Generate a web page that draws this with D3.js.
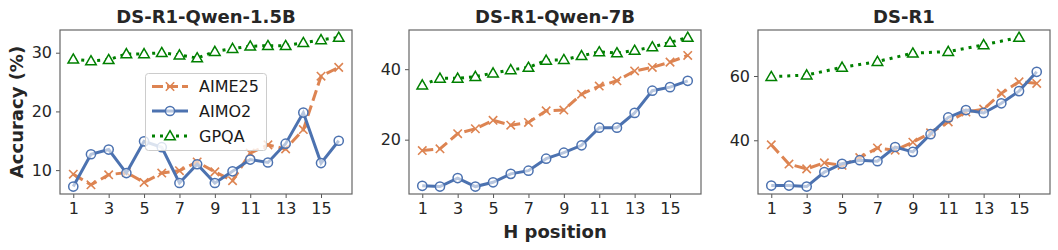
<!DOCTYPE html>
<html>
<head>
<meta charset="utf-8">
<script src="https://cdn.jsdelivr.net/npm/d3@7"></script>
<style>
  body { margin: 0; background: #fff; }
  svg { display: block; font-family: "DejaVu Sans", sans-serif; }
</style>
</head>
<body>
<script>
// H positions on the x axis
const hPositions = [1, 2, 3, 4, 5, 6, 7, 8, 9, 10, 11, 12, 13, 14, 15, 16];
const xTicks = [1, 3, 5, 7, 9, 11, 13, 15];

const panelTitles = ["DS-R1-Qwen-1.5B", "DS-R1-Qwen-7B", "DS-R1"];
const seriesNames = ["AIME25", "AIMO2", "GPQA"];

// DS-R1-Qwen-1.5B
const qwen15Aime25 = [9.3, 7.5, 9.2, 9.6, 7.9, 9.5, 9.9, 11.4, 9.7, 8.2, 12.9, 14.3, 13.6, 16.9, 26.0, 27.5];
const qwen15Aimo2 = [7.2, 12.7, 13.5, 9.5, 14.9, 13.9, 7.8, 11.0, 7.8, 9.8, 11.8, 11.3, 14.5, 19.8, 11.2, 15.0];
const qwen15Gpqa = [28.9, 28.6, 28.8, 29.8, 29.8, 30.0, 29.6, 29.1, 30.2, 30.7, 31.1, 31.2, 31.2, 31.7, 32.2, 32.6];

// DS-R1-Qwen-7B
const qwen7Aime25 = [16.9, 17.4, 21.7, 23.1, 25.5, 24.1, 24.9, 28.2, 28.4, 32.9, 35.2, 36.7, 39.5, 40.5, 42.0, 43.9];
const qwen7Aimo2 = [6.9, 6.7, 9.1, 6.7, 7.9, 10.3, 11.2, 14.6, 16.3, 18.4, 23.4, 23.4, 27.6, 33.9, 34.9, 36.7];
const qwen7Gpqa = [35.5, 37.4, 37.4, 37.9, 38.9, 39.8, 40.5, 42.5, 42.7, 43.8, 44.9, 44.6, 45.3, 46.3, 47.6, 49.0];

// DS-R1 (GPQA only measured at odd positions)
const r1Aime25 = [38.6, 32.6, 31.1, 33.0, 32.2, 34.6, 37.6, 36.9, 39.4, 42.3, 45.7, 48.8, 49.7, 54.6, 58.2, 57.7];
const r1Aimo2 = [25.9, 25.9, 25.6, 30.1, 32.7, 33.8, 33.5, 37.9, 36.4, 41.9, 47.1, 49.4, 48.5, 51.5, 55.3, 61.3];
const r1Gpqa = [59.8, null, 60.3, null, 62.7, null, 64.5, null, 67.1, null, 67.6, null, 69.7, null, 72.0, null];

const yTicksList = [[10, 20, 30], [20, 40], [40, 60]];

const panelSeries = [
  [qwen15Aime25, qwen15Aimo2, qwen15Gpqa],
  [qwen7Aime25, qwen7Aimo2, qwen7Gpqa],
  [r1Aime25, r1Aimo2, r1Gpqa]
];

const colors = ["#dd8452", "#4c72b0", "#008000"];
const dashes = ["11,5", null, "3,5"];

const W = 1058, H = 250;
const axTop = 30, axBottom = 194;
const lefts = [60, 409, 758];
const axW = 292;

const svg = d3.select("body").append("svg")
  .attr("width", W)
  .attr("height", H);

function drawMarker(g, kind, x, y, color) {
  if (kind == 0) {
    const s = 4.2;
    g.append("path")
      .attr("d", `M${x - s},${y - s}L${x + s},${y + s}M${x - s},${y + s}L${x + s},${y - s}`)
      .attr("stroke", color).attr("stroke-width", 1.6).attr("fill", "none");
  } else if (kind == 1) {
    g.append("circle")
      .attr("cx", x).attr("cy", y).attr("r", 4.6)
      .attr("fill", "white").attr("fill-opacity", 0.6)
      .attr("stroke", color).attr("stroke-width", 1.5);
  } else {
    g.append("path")
      .attr("d", d3.symbol(d3.symbolTriangle, 48)())
      .attr("transform", `translate(${x},${y + 0.8})`)
      .attr("fill", "white")
      .attr("stroke", color).attr("stroke-width", 1.5);
  }
}

panelSeries.forEach((series, p) => {
  const left = lefts[p];
  const x = d3.scaleLinear().domain([0.25, 16.75]).range([left, left + axW]);

  const all = series.flat().filter(v => v != null);
  const lo = d3.min(all), hi = d3.max(all);
  const pad = (hi - lo) * 0.05;
  const y = d3.scaleLinear().domain([lo - pad, hi + pad]).range([axBottom, axTop]);

  const g = svg.append("g");

  // lines + markers
  series.forEach((vals, s) => {
    const pts = hPositions.map((h, i) => ({ h: h, v: vals[i] })).filter(d => d.v != null);
    const line = d3.line().x(d => x(d.h)).y(d => y(d.v));
    g.append("path")
      .datum(pts)
      .attr("d", line)
      .attr("fill", "none")
      .attr("stroke", colors[s])
      .attr("stroke-width", 3)
      .attr("stroke-dasharray", dashes[s]);
    pts.forEach(d => drawMarker(g, s, x(d.h), y(d.v), colors[s]));
  });

  // axes
  const xAxis = d3.axisBottom(x).tickValues(xTicks).tickSize(4).tickPadding(5);
  const gx = g.append("g")
    .attr("transform", "translate(0," + axBottom + ")")
    .call(xAxis);
  const yAxis = d3.axisLeft(y).tickValues(yTicksList[p]).tickSize(4).tickPadding(4);
  const gy = g.append("g")
    .attr("transform", "translate(" + left + ",0)")
    .call(yAxis);
  [gx, gy].forEach(a => {
    a.select(".domain").remove();
    a.selectAll(".tick line").attr("stroke", "#555").attr("stroke-width", 1);
    a.selectAll(".tick text")
      .attr("fill", "#262626")
      .style("font-size", "16px")
      .style("font-family", "DejaVu Sans");
  });

  // frame
  g.append("rect")
    .attr("x", left).attr("y", axTop)
    .attr("width", axW).attr("height", axBottom - axTop)
    .attr("fill", "none")
    .attr("stroke", "#666")
    .attr("stroke-width", 1.2);

  // title
  g.append("text")
    .attr("x", left + axW / 2)
    .attr("y", 23)
    .attr("text-anchor", "middle")
    .style("font-size", "18px")
    .style("font-weight", "bold")
    .attr("fill", "#262626")
    .text(panelTitles[p]);
});

// legend in first panel
const lg = svg.append("g");
lg.append("rect")
  .attr("x", 145.5).attr("y", 73.5)
  .attr("width", 121).attr("height", 77)
  .attr("rx", 3)
  .attr("fill", "white").attr("fill-opacity", 0.8)
  .attr("stroke", "#cccccc").attr("stroke-width", 1);
const rowsY = [86.5, 111, 136];
seriesNames.forEach((name, s) => {
  const ly = rowsY[s];
  lg.append("line")
    .attr("x1", 152).attr("x2", 188)
    .attr("y1", ly).attr("y2", ly)
    .attr("stroke", colors[s]).attr("stroke-width", 3)
    .attr("stroke-dasharray", s == 2 ? "3,5" : (s == 0 ? "11,4" : null));
  drawMarker(lg, s, 170, ly, colors[s]);
  lg.append("text")
    .attr("x", 199).attr("y", ly + 5.5)
    .style("font-size", "16px")
    .attr("fill", "#1a1a1a")
    .text(name);
});

// axis labels
svg.append("text")
  .attr("transform", "translate(23,112) rotate(-90)")
  .attr("text-anchor", "middle")
  .style("font-size", "18px")
  .style("font-weight", "bold")
  .attr("fill", "#262626")
  .text("Accuracy (%)");

svg.append("text")
  .attr("x", 555)
  .attr("y", 238)
  .attr("text-anchor", "middle")
  .style("font-size", "18px")
  .style("font-weight", "bold")
  .attr("fill", "#262626")
  .text("H position");
</script>
</body>
</html>
